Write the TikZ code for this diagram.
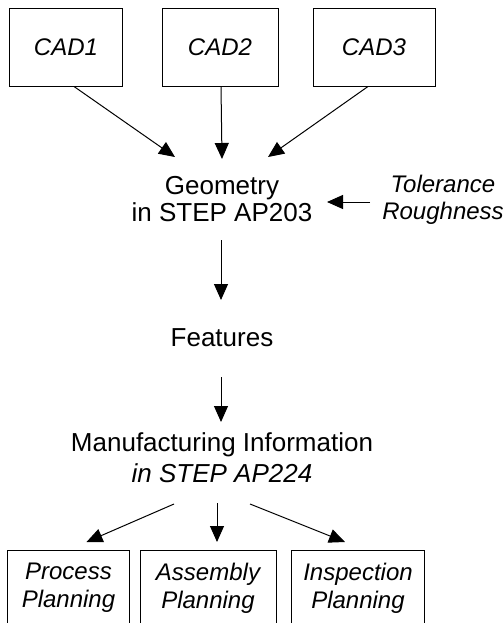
\documentclass[tikz,border=0pt]{standalone}
\usepackage{fontspec}
\setmainfont{Liberation Sans}
\usetikzlibrary{arrows.meta}
\begin{document}
\begin{tikzpicture}[x=1bp,y=-1bp,
  arr/.style={-{Triangle[length=16bp,width=14bp]}, line width=1bp},
  cadbox/.style={draw, line width=1bp, minimum height=78bp, inner sep=0pt,
    font=\fontsize{24bp}{27bp}\selectfont\itshape},
  planbox/.style={draw, line width=1bp, minimum height=76bp, inner sep=0pt, align=center,
    font=\fontsize{24bp}{28bp}\selectfont\itshape},
  lbl/.style={inner sep=0pt, align=center, font=\fontsize{26bp}{27bp}\selectfont},
]
\clip (0,0) rectangle (503,623);
\fill[white] (0,0) rectangle (503,623);

\node[cadbox, minimum width=112bp] (cad1) at (66,47.5) {CAD1};
\node[cadbox, minimum width=116bp] (cad2) at (220,47.5) {CAD2};
\node[cadbox, minimum width=122bp] (cad3) at (374,47.5) {CAD3};

\node[lbl] (geo) at (222,199) {Geometry\\in STEP AP203};
\node[lbl, font=\fontsize{24bp}{27bp}\selectfont\itshape] (tol) at (443,200) {Tolerance\\Roughness};
\node[lbl, anchor=base] (feat) at (222,346) {Features};
\node[lbl, font=\fontsize{26bp}{31bp}\selectfont] (manu) at (222,458) {Manufacturing Information\\\textit{in STEP AP224}};

\node[planbox, minimum width=121bp] (proc) at (68.5,588) {Process\\Planning};
\node[planbox, minimum width=136bp] (asm) at (208,588) {Assembly\\Planning};
\node[planbox, minimum width=133bp] (insp) at (358,588) {Inspection\\Planning};

\draw[arr] ([shift={(8,39)}]cad1.center) -- ([shift={(-47,-42)}]geo.center);
\draw[arr] ([shift={(1,39)}]cad2.center) -- ([shift={(0,-40)}]geo.center);
\draw[arr] ([shift={(-6,39)}]cad3.center) -- ([shift={(46,-42)}]geo.center);
\draw[arr] ([shift={(-73,2)}]tol.center) -- ([shift={(105,3)}]geo.center);
\draw[arr] ([shift={(-1,41)}]geo.center) -- ([shift={(-1,-46)}]feat.base);
\draw[arr] ([shift={(-1,31)}]feat.base) -- ([shift={(-1,-36)}]manu.center);
\draw[arr] ([shift={(-48,46)}]manu.center) -- ([shift={(18,-46)}]proc.center);
\draw[arr] ([shift={(-5,45)}]manu.center) -- ([shift={(9,-46)}]asm.center);
\draw[arr] ([shift={(28,46)}]manu.center) -- ([shift={(-13,-46)}]insp.center);
\end{tikzpicture}
\end{document}
